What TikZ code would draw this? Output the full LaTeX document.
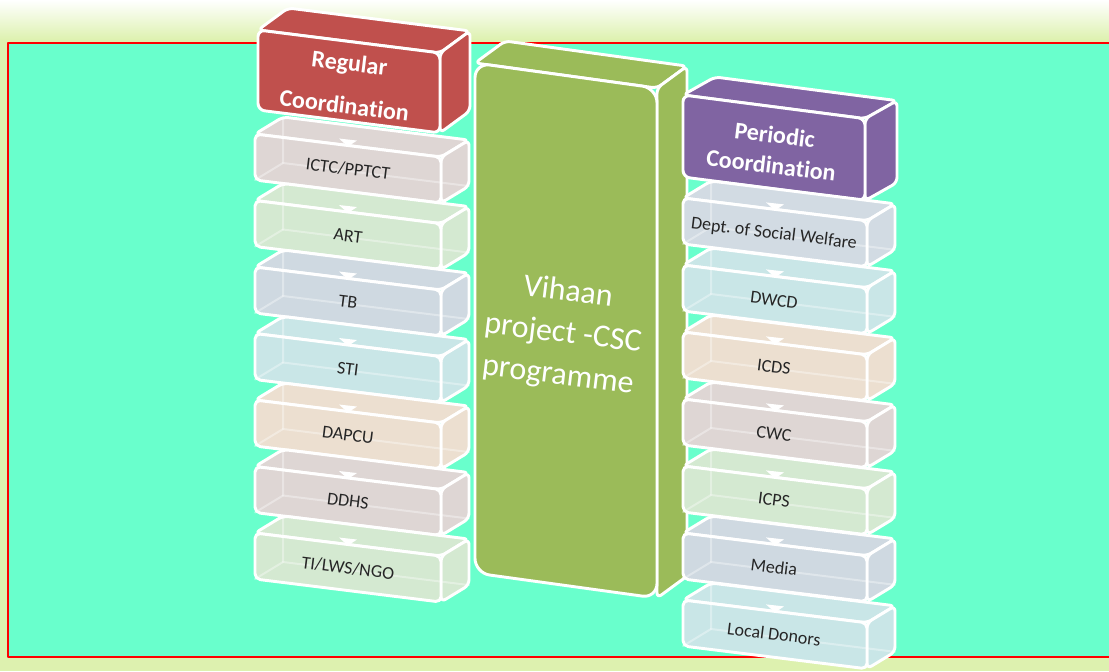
\documentclass[tikz,border=0pt]{standalone}
\usepackage{fontspec}
\setmainfont{Carlito}[Ligatures=NoCommon]
\usetikzlibrary{calc}
\definecolor{aqua}{HTML}{69FFCC}
\definecolor{paleol}{HTML}{DDF1AF}
\definecolor{regred}{HTML}{C0504D}
\definecolor{perpurp}{HTML}{8064A2}
\definecolor{vgreen}{HTML}{9BBB59}
\definecolor{tintred}{HTML}{DED6D4}
\definecolor{tintgreen}{HTML}{D4E9D1}
\definecolor{tintblue}{HTML}{CFD9E1}
\definecolor{tintaqua}{HTML}{C9E6E7}
\definecolor{tintorange}{HTML}{ECDFD0}
\definecolor{tintpurple}{HTML}{D2DBE3}
\definecolor{labelgray}{HTML}{262626}
% slanted box: x, y, width, height, fill, slope, depth x, depth y, corner radius
\newcommand{\slab}[9]{%
\coordinate (tl) at (#1,#2);
\coordinate (tr) at ({#1+#3},{#2+#6*#3});
\coordinate (bl) at (#1,{#2+#4});
\coordinate (br) at ({#1+#3},{#2+#6*#3+#4});
\coordinate (btl) at ({#1+#7},{#2+#8});
\coordinate (btr) at ({#1+#3+#7},{#2+#6*#3+#8});
\coordinate (bbr) at ({#1+#3+#7},{#2+#6*#3+#4+#8});
\coordinate (bbl) at ({#1+#7},{#2+#4+#8});
\draw[boxline,fill=#5,rounded corners=4pt] (tl) -- (btl) -- (btr) -- (tr) -- cycle;
\draw[boxline,fill=#5,rounded corners=4pt] (tr) -- (btr) -- (bbr) -- (br) -- cycle;
\draw[boxline,fill=#5,rounded corners=#9] (tl) -- (tr) -- (br) -- (bl) -- cycle;
}
% faint back edges seen through a glass box, and the tab on its top
\newcommand{\glass}[4]{%
\draw[backline] (btl) -- (bbl) -- (bbr);
\draw[backline] (bl) -- (bbl);
\fill[white] ({#1+#3/2-9},{#2+#4*#3/2-7}) -- ({#1+#3/2+9},{#2+#4*#3/2-5}) -- ({#1+#3/2},{#2+#4*#3/2+1}) -- cycle;
}
\begin{document}
\frenchspacing
\begin{tikzpicture}[x=0.75pt,y=-0.75pt,line cap=round,line join=round,
  boxline/.style={draw=white,line width=2.2pt},
  backline/.style={white,line width=1.5pt,opacity=0.35},
  head/.style={text=white,font=\bfseries\fontsize{18}{23}\selectfont,align=center,rotate=-7},
  item/.style={text=labelgray,font=\fontsize{13.5}{16}\selectfont,rotate=-7},
  core/.style={text=white,font=\fontsize{24}{31.5}\selectfont,align=center,rotate=-7}]
\useasboundingbox (0,0) rectangle (1109,671);
% background
\fill[paleol] (0,0) rectangle (1109,671);
\shade[top color=white,bottom color=paleol] (0,0) rectangle (1109,40);
\draw[fill=aqua,draw=red,line width=1.6pt] (8,43) rectangle (1116,657);
% left column
\slab{258}{30}{182}{80}{regred}{0.126}{30}{-22}{5pt}
\node[head] (regular) at (347,84) {Regular\\[9pt]Coordination};
\slab{255}{134}{186}{46}{tintred}{0.124}{28}{-17}{4pt}\glass{255}{134}{186}{0.124}
\node[item] (ictc) at (348,169) {ICTC/PPTCT};
\slab{255}{200.5}{186}{46}{tintgreen}{0.124}{28}{-17}{4pt}\glass{255}{200.5}{186}{0.124}
\node[item] (art) at (348,236) {ART};
\slab{255}{267}{186}{46}{tintblue}{0.124}{28}{-17}{4pt}\glass{255}{267}{186}{0.124}
\node[item] (tb) at (348,302) {TB};
\slab{255}{333.5}{186}{46}{tintaqua}{0.124}{28}{-17}{4pt}\glass{255}{333.5}{186}{0.124}
\node[item] (sti) at (348,369) {STI};
\slab{255}{400}{186}{46}{tintorange}{0.124}{28}{-17}{4pt}\glass{255}{400}{186}{0.124}
\node[item] (dapcu) at (348,435) {DAPCU};
\slab{255}{466.5}{186}{46}{tintred}{0.124}{28}{-17}{4pt}\glass{255}{466.5}{186}{0.124}
\node[item] (ddhs) at (348,501) {DDHS};
\slab{255}{533}{186}{46}{tintgreen}{0.124}{28}{-17}{4pt}\glass{255}{533}{186}{0.124}
\node[item] (tilws) at (348,568) {TI/LWS/NGO};
% centre
\slab{475}{63}{182}{510}{vgreen}{0.138}{30}{-22}{11pt}
\node[core] (vihaan) at (563,334) {Vihaan\\project -CSC\\programme};
% right column
\slab{683}{95}{182}{82}{perpurp}{0.13}{32}{-18}{5pt}
\node[head] (periodic) at (773,150) {Periodic\\Coordination};
\slab{683}{198}{184}{46}{tintpurple}{0.124}{28}{-17}{4pt}\glass{683}{198}{184}{0.124}
\node[item] (dsw) at (774,234) {Dept. of Social Welfare};
\slab{683}{265}{184}{46}{tintaqua}{0.124}{28}{-17}{4pt}\glass{683}{265}{184}{0.124}
\node[item] (dwcd) at (774,300) {DWCD};
\slab{683}{332}{184}{46}{tintorange}{0.124}{28}{-17}{4pt}\glass{683}{332}{184}{0.124}
\node[item] (icds) at (774,367) {ICDS};
\slab{683}{399}{184}{46}{tintred}{0.124}{28}{-17}{4pt}\glass{683}{399}{184}{0.124}
\node[item] (cwc) at (774,434) {CWC};
\slab{683}{466}{184}{46}{tintgreen}{0.124}{28}{-17}{4pt}\glass{683}{466}{184}{0.124}
\node[item] (icps) at (774,500) {ICPS};
\slab{683}{533}{184}{46}{tintblue}{0.124}{28}{-17}{4pt}\glass{683}{533}{184}{0.124}
\node[item] (media) at (774,567) {Media};
\slab{683}{600}{184}{46}{tintaqua}{0.124}{28}{-17}{4pt}\glass{683}{600}{184}{0.124}
\node[item] (donors) at (774,634) {Local Donors};
\end{tikzpicture}
\end{document}
